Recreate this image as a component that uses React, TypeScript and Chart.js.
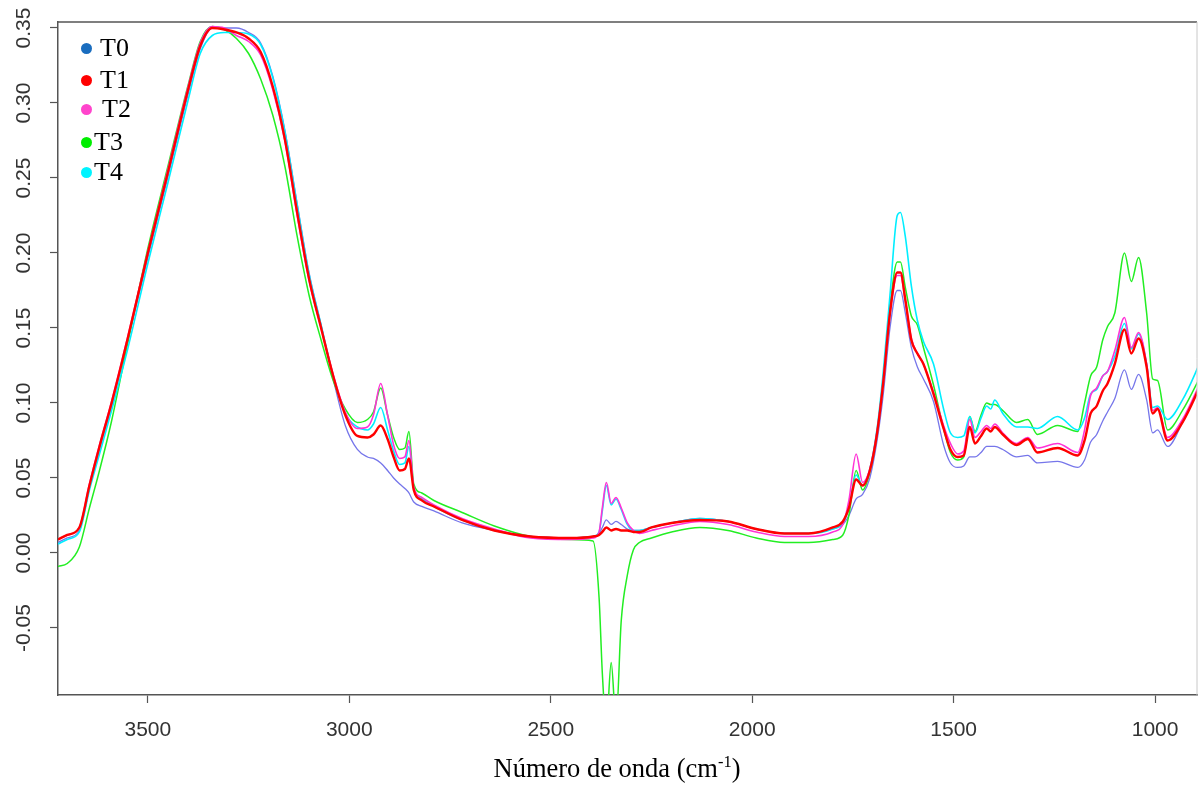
import React, { useEffect, useRef } from "react";
import { Chart, registerables } from "chart.js";

Chart.register(...registerables);

// Wavenumbers (cm-1), shared by all series
const wavenumbers = [3723,3700,3670,3645,3620,3590,3550,3500,3450,3400,3370,3340,3310,3280,3250,3220,3190,3160,3130,3100,3070,3040,3010,2980,2955,2940,2922,2905,2890,2875,2862,2852,2840,2820,2790,2720,2640,2550,2450,2395,2380,2372,2362,2350,2338,2325,2310,2295,2280,2250,2200,2130,2060,1990,1920,1860,1800,1775,1760,1742,1726,1708,1690,1675,1658,1640,1632,1620,1605,1590,1575,1550,1525,1508,1490,1475,1460,1447,1432,1418,1408,1398,1378,1344,1316,1292,1242,1192,1175,1160,1145,1130,1118,1100,1076,1059,1041,1021,1006,994,969,932,885];

const t0 = [0.007,0.010,0.015,0.043,0.069,0.098,0.141,0.197,0.251,0.306,
  0.336,0.350,0.350,0.350,0.347,0.340,0.318,0.282,0.234,0.187,
  0.152,0.116,0.085,0.069,0.064,0.063,0.060,0.055,0.050,0.046,
  0.043,0.040,0.034,0.031,0.028,0.020,0.015,0.011,0.010,0.011,
  0.013,0.017,0.022,0.019,0.021,0.019,0.016,0.015,0.015,0.017,
  0.020,0.023,0.021,0.016,0.013,0.013,0.016,0.019,0.025,0.036,
  0.039,0.050,0.075,0.105,0.150,0.175,0.175,0.160,0.137,0.124,
  0.116,0.101,0.072,0.060,0.057,0.058,0.064,0.064,0.067,0.071,
  0.071,0.071,0.069,0.064,0.065,0.060,0.061,0.057,0.062,0.074,
  0.079,0.088,0.094,0.103,0.122,0.109,0.119,0.102,0.080,0.082,
  0.071,0.087,0.114];

const t1 = [0.009,0.012,0.017,0.045,0.071,0.100,0.143,0.200,0.254,0.309,
  0.338,0.350,0.349,0.347,0.343,0.334,0.311,0.276,0.228,0.183,
  0.150,0.118,0.092,0.078,0.077,0.079,0.085,0.076,0.064,0.055,
  0.056,0.063,0.042,0.035,0.031,0.022,0.015,0.011,0.010,0.011,
  0.012,0.014,0.017,0.015,0.016,0.015,0.015,0.014,0.014,0.017,
  0.020,0.022,0.021,0.016,0.013,0.013,0.017,0.021,0.030,0.049,
  0.045,0.055,0.080,0.113,0.160,0.187,0.187,0.169,0.142,0.133,
  0.126,0.106,0.083,0.069,0.064,0.065,0.084,0.073,0.078,0.083,
  0.081,0.084,0.079,0.072,0.076,0.067,0.070,0.065,0.075,0.093,
  0.098,0.108,0.113,0.126,0.149,0.133,0.143,0.124,0.093,0.096,
  0.075,0.087,0.113];

const t2 = [0.009,0.012,0.017,0.046,0.072,0.101,0.144,0.201,0.256,0.311,
  0.340,0.351,0.350,0.345,0.341,0.332,0.309,0.275,0.226,0.182,
  0.150,0.119,0.094,0.083,0.084,0.092,0.113,0.092,0.072,0.063,
  0.064,0.075,0.044,0.037,0.032,0.023,0.016,0.010,0.009,0.010,
  0.014,0.030,0.047,0.033,0.037,0.030,0.020,0.015,0.013,0.015,
  0.018,0.021,0.019,0.014,0.011,0.011,0.014,0.019,0.035,0.066,
  0.047,0.056,0.081,0.114,0.160,0.185,0.185,0.168,0.143,0.133,
  0.126,0.107,0.085,0.073,0.066,0.068,0.089,0.077,0.081,0.085,
  0.083,0.086,0.080,0.073,0.077,0.070,0.073,0.067,0.082,0.105,
  0.110,0.118,0.121,0.135,0.157,0.137,0.147,0.126,0.095,0.097,
  0.077,0.089,0.115];

const t3 = [-0.009,-0.007,0.004,0.030,0.055,0.088,0.140,0.203,0.258,0.312,
  0.341,0.351,0.349,0.343,0.333,0.316,0.292,0.258,0.212,0.172,
  0.142,0.115,0.096,0.087,0.089,0.094,0.110,0.092,0.077,0.069,
  0.070,0.081,0.046,0.040,0.035,0.027,0.018,0.011,0.009,0.008,
  -0.030,-0.080,-0.115,-0.073,-0.112,-0.045,-0.015,0.002,0.007,0.010,
  0.014,0.017,0.015,0.010,0.007,0.007,0.009,0.012,0.025,0.055,
  0.042,0.054,0.080,0.115,0.164,0.194,0.194,0.177,0.158,0.152,
  0.137,0.112,0.083,0.067,0.062,0.064,0.091,0.081,0.092,0.100,
  0.099,0.099,0.095,0.087,0.089,0.079,0.085,0.081,0.100,0.118,
  0.124,0.142,0.151,0.160,0.200,0.181,0.197,0.160,0.116,0.115,
  0.082,0.095,0.119];

const t4 = [0.006,0.009,0.014,0.042,0.066,0.095,0.136,0.193,0.247,0.302,
  0.333,0.345,0.347,0.347,0.346,0.339,0.317,0.281,0.233,0.186,
  0.152,0.118,0.093,0.084,0.082,0.086,0.097,0.082,0.068,0.059,
  0.060,0.071,0.043,0.036,0.031,0.022,0.015,0.011,0.010,0.011,
  0.014,0.028,0.045,0.032,0.036,0.029,0.019,0.015,0.015,0.017,
  0.020,0.023,0.021,0.016,0.013,0.013,0.016,0.020,0.030,0.052,
  0.045,0.056,0.083,0.120,0.172,0.225,0.227,0.211,0.178,0.155,
  0.141,0.126,0.096,0.080,0.077,0.078,0.091,0.080,0.090,0.098,
  0.096,0.102,0.093,0.084,0.084,0.083,0.091,0.082,0.090,0.106,
  0.109,0.118,0.121,0.131,0.153,0.136,0.146,0.126,0.097,0.098,
  0.089,0.102,0.129];

const seriesNames = ["T0", "T1", "T2", "T3", "T4"];
const seriesValues = [t0, t1, t2, t3, t4];
const lineColors = ["#7676ea", "#ff0000", "#ff33d6", "#22ee22", "#00eeff"];
const legendColors = ["#1a6dbf", "#ff0000", "#ff44cc", "#00ee00", "#00f4ff"];
const lineWidths = [1.3, 2.4, 1.6, 1.5, 1.6];
const drawOrder = [4, 0, 1, 3, 2];

const xTicks = [3500, 3000, 2500, 2000, 1500, 1000];
const yTicks = [-0.05, 0, 0.05, 0.1, 0.15, 0.2, 0.25, 0.3, 0.35];
const xMin = 896;
const xMax = 3723;
const yMin = -0.0947;
const yMax = 0.354;

const legendY = [48, 80, 109, 142, 172];
const legendTextX = [100, 100, 102, 94, 94];

const boxPlugin = {
  id: "boxLines",
  afterDraw(chart: any) {
    const { ctx, chartArea } = chart;
    ctx.save();
    ctx.strokeStyle = "#555";
    ctx.lineWidth = 1.5;
    ctx.beginPath();
    ctx.moveTo(chartArea.left, chartArea.top);
    ctx.lineTo(chartArea.right, chartArea.top);
    ctx.stroke();
    ctx.strokeStyle = "#c8c8c8";
    ctx.lineWidth = 1;
    ctx.beginPath();
    ctx.moveTo(chartArea.right, chartArea.top);
    ctx.lineTo(chartArea.right, chartArea.bottom);
    ctx.stroke();
    ctx.restore();
  },
};

export default function App() {
  const canvasRef = useRef<HTMLCanvasElement | null>(null);

  useEffect(() => {
    document.body.style.margin = "0";
    document.body.style.background = "#fff";
    const canvas = canvasRef.current;
    if (!canvas) return;
    const datasets = seriesNames.map((name, i) => ({
      label: name,
      data: wavenumbers.map((w, k) => ({ x: w, y: seriesValues[i][k] })),
      borderColor: lineColors[i],
      backgroundColor: lineColors[i],
      borderWidth: lineWidths[i],
      pointRadius: 0,
      fill: false,
      cubicInterpolationMode: "monotone" as const,
      order: drawOrder[i],
    }));
    const tickFont = { family: "'Liberation Sans', Arial, sans-serif", size: 21 };
    const chart = new Chart(canvas, {
      type: "line",
      data: { datasets },
      plugins: [boxPlugin],
      options: {
        responsive: false,
        animation: false,
        devicePixelRatio: 1,
        layout: { padding: { top: 22, right: 5, left: 0, bottom: 0 } },
        plugins: { legend: { display: false }, tooltip: { enabled: false } },
        scales: {
          x: {
            type: "linear",
            reverse: true,
            min: xMin,
            max: xMax,
            afterBuildTicks: (s: any) => {
              s.ticks = xTicks.map((v) => ({ value: v }));
            },
            afterFit: (s: any) => {
              s.height = 90;
            },
            ticks: {
              callback: (v: any) => String(v),
              font: tickFont,
              color: "#333",
              padding: 15,
              maxRotation: 0,
              autoSkip: false,
            },
            grid: { drawOnChartArea: false, drawTicks: true, tickLength: 8, color: "#555", tickWidth: 1.2 },
            border: { display: true, color: "#555", width: 1.5 },
          },
          y: {
            type: "linear",
            min: yMin,
            max: yMax,
            afterBuildTicks: (s: any) => {
              s.ticks = yTicks.map((v) => ({ value: v }));
            },
            afterFit: (s: any) => {
              s.width = 58;
            },
            ticks: {
              callback: (v: any) => Number(v).toFixed(2),
              font: tickFont,
              color: "#333",
              minRotation: 90,
              maxRotation: 90,
              crossAlign: "center",
              padding: 2,
              autoSkip: false,
            },
            grid: { drawOnChartArea: false, drawTicks: true, tickLength: 8, color: "#555", tickWidth: 1.2 },
            border: { display: true, color: "#555", width: 1.5 },
          },
        },
      },
    });
    return () => chart.destroy();
  }, []);

  return (
    <div style={{ position: "relative", width: 1202, height: 785, background: "#fff", overflow: "hidden" }}>
      <canvas ref={canvasRef} width={1202} height={785} style={{ position: "absolute", left: 0, top: 0 }} />
      {seriesNames.map((name, i) => (
        <React.Fragment key={name}>
          <div
            style={{
              position: "absolute",
              left: 86 - 5.5,
              top: legendY[i] - 5.5,
              width: 11,
              height: 11,
              borderRadius: "50%",
              background: legendColors[i],
            }}
          />
          <div
            style={{
              position: "absolute",
              left: legendTextX[i],
              top: legendY[i] - 13,
              fontFamily: "'Liberation Serif', 'Times New Roman', serif",
              fontSize: 26,
              lineHeight: "26px",
              color: "#000",
              whiteSpace: "nowrap",
            }}
          >
            {name}
          </div>
        </React.Fragment>
      ))}
      <div
        style={{
          position: "absolute",
          left: 617,
          top: 755,
          transform: "translateX(-50%)",
          fontFamily: "'Liberation Serif', 'Times New Roman', serif",
          fontSize: 26.5,
          lineHeight: "27px",
          color: "#000",
          whiteSpace: "nowrap",
        }}
      >
        Número de onda (cm
        <sup style={{ fontSize: "0.62em", lineHeight: 0, verticalAlign: "0.6em" }}>-1</sup>)
      </div>
    </div>
  );
}
